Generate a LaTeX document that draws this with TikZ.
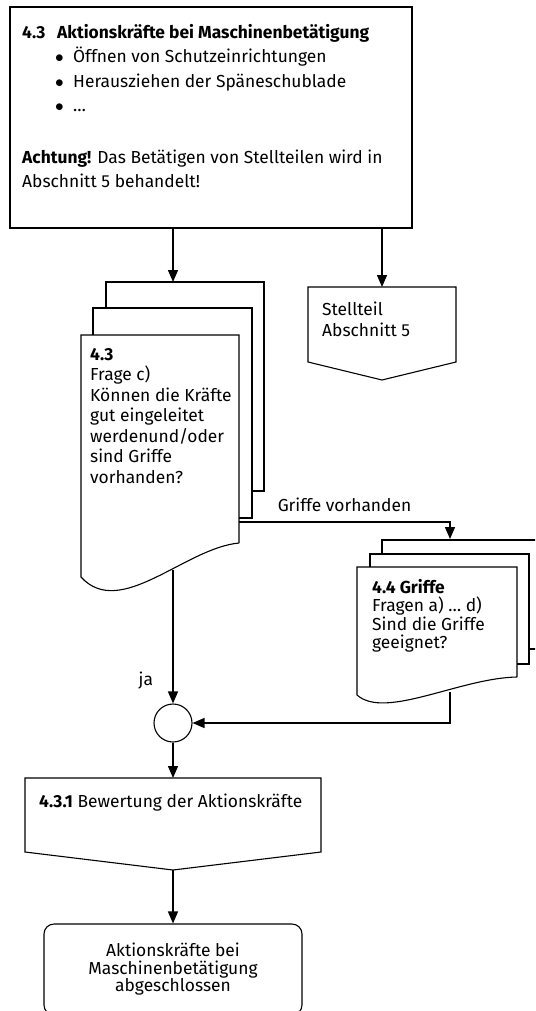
\documentclass[tikz,border=0pt]{standalone}
\usepackage{fontspec}
\setmainfont{Fira Sans}
\usetikzlibrary{
    arrows.meta,
    calc
}

\begin{document}
\begin{tikzpicture}[x=1pt, y=-1pt,
    font=\fontsize{17.4}{20.5}\selectfont,
    box/.style={draw, line width=1.1pt},
    page/.style={draw, line width=1.1pt},
    flow/.style={line width=1.4pt, -{Triangle[length=12pt,width=10pt]}},
    txt/.style={anchor=north west, align=left, inner sep=0pt}
]

\useasboundingbox (0,0) rectangle (535,1011);
\clip (0,0) rectangle (535,1011);

% Top box
\node[box, minimum width=402pt, minimum height=221pt, inner sep=0pt] (intro) at (211,117.5) {};
\node[txt, font=\fontsize{17.4}{24.5}\selectfont] (introtext) at (22,24) {%
    \makebox[35pt][l]{\textbf{4.3}}\textbf{Aktionskräfte bei Maschinenbetätigung}\\
    \hspace*{33pt}\makebox[18pt][l]{$\bullet$}Öffnen von Schutzeinrichtungen\\
    \hspace*{33pt}\makebox[18pt][l]{$\bullet$}Herausziehen der Späneschublade\\
    \hspace*{33pt}\makebox[18pt][l]{$\bullet$}…\\[27pt]
    \textbf{Achtung!} Das Betätigen von Stellteilen wird in\\
    Abschnitt 5 behandelt!};

% Arrows out of the top box
\coordinate (stack43) at (173,282);
\coordinate (offpage) at (382,287);
\draw[flow] (intro.south -| stack43) -- (stack43);
\draw[flow] (intro.south -| offpage) -- (offpage);

% Off-page connector
\draw[box] (308,287) -- (456,287) -- (456,362) -- (382,380) -- (308,362) -- cycle;
\node[txt] (stellteil) at (322,302) {Stellteil\\Abschnitt 5};

% Document stack 4.3
\draw[page] (106,308) |- (264,282) |- (252,491);
\draw[page] (93,335) |- (252,308) |- (239,518);
\draw[page] (239,543) |- (81,335) -- (81,577) .. controls (120,620) and (185,548) .. (239,543);
\node[txt] (q43) at (90,348) {\textbf{4.3}\\Frage c)\\Können die Kräfte\\gut eingeleitet\\werdenund/oder\\sind Griffe\\vorhanden?};
\coordinate (q43out) at (239,522);
\coordinate (q43foot) at (173,570);

% Document stack 4.4
\draw[page] (382,554) |- (542,540) |- (529,649);
\draw[page] (370,567) |- (529,554) |- (517,664);
\draw[page] (517,677) |- (357,567) -- (357,695) .. controls (385,720) and (460,678) .. (517,677);
\node[txt, font=\fontsize{17.4}{18.5}\selectfont] (q44) at (372,579) {\textbf{4.4 Griffe}\\Fragen a) … d)\\Sind die Griffe\\geeignet?};
\coordinate (stack44) at (450,539);
\coordinate (q44foot) at (450,692);

\draw[flow] (q43out) -| node[above=6pt, pos=0.25] (griffe) {Griffe vorhanden} (stack44);

% Merge
\node[draw, circle, line width=1.1pt, minimum size=38pt, inner sep=0pt] (merge) at (173,723) {};
\draw[flow] (q43foot) -- node[left=16pt, pos=0.83] (ja) {ja} (merge);
\draw[flow] (q44foot) |- (merge);

% Evaluation
\coordinate (evaltop) at (173,778);
\coordinate (evaltip) at (173,870);
\draw[flow] (merge) -- (evaltop);
\draw[box] (25,778) -- (321,778) -- (321,852) -- (evaltip) -- (25,852) -- cycle;
\node[txt] (eval) at (39,794) {\textbf{4.3.1} Bewertung der Aktionskräfte};

% End
\node[draw, rounded corners=10pt, line width=1.1pt, minimum width=258pt, minimum height=91pt, align=center, font=\fontsize{17.4}{17.5}\selectfont] (done) at (173,969.5) {Aktionskräfte bei\\Maschinenbetätigung\\abgeschlossen};
\draw[flow] (evaltip) -- (done);

\end{tikzpicture}
\end{document}
